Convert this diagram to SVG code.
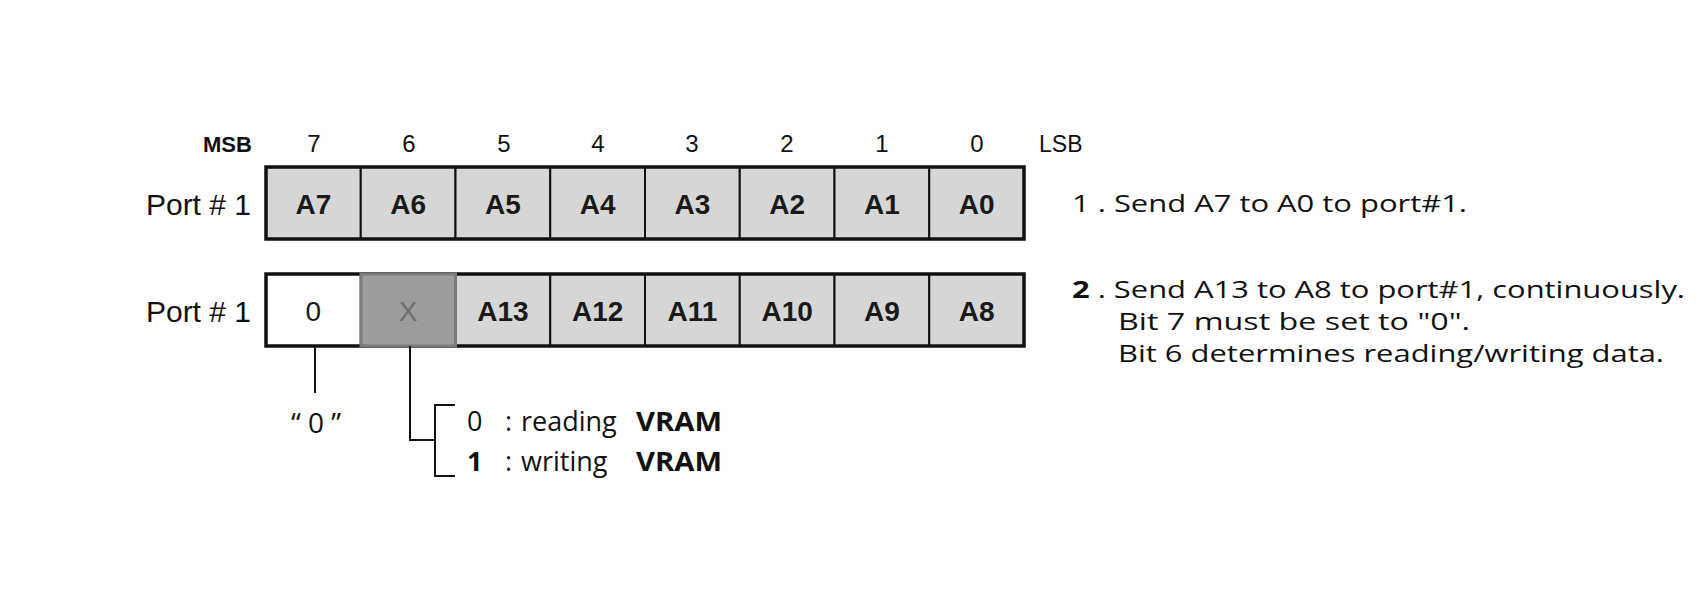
<svg xmlns="http://www.w3.org/2000/svg" width="1700" height="606" viewBox="0 0 1700 606">
<style>
.bg{fill:#ffffff}
.cell{fill:#d6d6d6;stroke:#111;stroke-width:2}
.white{fill:#ffffff;stroke:#111;stroke-width:2}
.dark{fill:#9c9c9c;stroke:#7a7a7a;stroke-width:3}
.frame{fill:none;stroke:#111;stroke-width:3.5}
.lbl{font-family:"Liberation Sans",Arial,sans-serif;font-weight:bold;font-size:28px;text-anchor:middle;fill:#1a1a1a}
.xl{fill:#6e6e6e}
.port{font-family:"Liberation Sans",Arial,sans-serif;font-size:30px;text-anchor:end;fill:#111}
.bit{font-family:"Liberation Sans",Arial,sans-serif;font-size:24px;text-anchor:middle;fill:#111}
.msb{font-family:"Liberation Sans",Arial,sans-serif;font-size:22px;font-weight:bold;fill:#111}
.note{font-family:"Open Sans","Noto Sans",sans-serif;font-size:25px;fill:#111}
.step{font-family:"Open Sans","Noto Sans",sans-serif;font-size:24px;fill:#111}
.sel{font-family:"Open Sans","Noto Sans",sans-serif;font-size:27px;fill:#111}
.b{font-weight:bold}
.ln{fill:none;stroke:#111;stroke-width:2}
</style>
<rect class="bg" x="0" y="0" width="1700" height="606"/>

<g id="bit-header">
<text class="msb" x="203" y="152">MSB</text>
<text class="bit" x="314" y="152">7</text>
<text class="bit" x="409" y="152">6</text>
<text class="bit" x="504" y="152">5</text>
<text class="bit" x="598" y="152">4</text>
<text class="bit" x="692" y="152">3</text>
<text class="bit" x="787" y="152">2</text>
<text class="bit" x="882" y="152">1</text>
<text class="bit" x="977" y="152">0</text>
<text class="bit" x="1039" y="152" style="text-anchor:start;font-size:23px">LSB</text>
</g>

<g id="row1">
<text class="port" x="251" y="215">Port # 1</text>
<g id="r1-a7"><rect class="cell" x="266" y="167" width="94.75" height="72"/><text class="lbl" x="313.4" y="214">A7</text></g>
<g id="r1-a6"><rect class="cell" x="360.75" y="167" width="94.75" height="72"/><text class="lbl" x="408.1" y="214">A6</text></g>
<g id="r1-a5"><rect class="cell" x="455.5" y="167" width="94.75" height="72"/><text class="lbl" x="502.9" y="214">A5</text></g>
<g id="r1-a4"><rect class="cell" x="550.25" y="167" width="94.75" height="72"/><text class="lbl" x="597.6" y="214">A4</text></g>
<g id="r1-a3"><rect class="cell" x="645" y="167" width="94.75" height="72"/><text class="lbl" x="692.4" y="214">A3</text></g>
<g id="r1-a2"><rect class="cell" x="739.75" y="167" width="94.75" height="72"/><text class="lbl" x="787.1" y="214">A2</text></g>
<g id="r1-a1"><rect class="cell" x="834.5" y="167" width="94.75" height="72"/><text class="lbl" x="881.9" y="214">A1</text></g>
<g id="r1-a0"><rect class="cell" x="929.25" y="167" width="94.75" height="72"/><text class="lbl" x="976.6" y="214">A0</text></g>
<rect class="frame" x="266" y="167" width="758" height="72"/>
</g>

<g id="row2">
<text class="port" x="251" y="322">Port # 1</text>
<g id="r2-b7"><rect class="white" x="266" y="274" width="94.75" height="72"/><text class="lbl" x="313.4" y="321" style="font-weight:normal">0</text></g>
<g id="r2-a13"><rect class="cell" x="455.5" y="274" width="94.75" height="72"/><text class="lbl" x="502.9" y="321">A13</text></g>
<g id="r2-a12"><rect class="cell" x="550.25" y="274" width="94.75" height="72"/><text class="lbl" x="597.6" y="321">A12</text></g>
<g id="r2-a11"><rect class="cell" x="645" y="274" width="94.75" height="72"/><text class="lbl" x="692.4" y="321">A11</text></g>
<g id="r2-a10"><rect class="cell" x="739.75" y="274" width="94.75" height="72"/><text class="lbl" x="787.1" y="321">A10</text></g>
<g id="r2-a9"><rect class="cell" x="834.5" y="274" width="94.75" height="72"/><text class="lbl" x="881.9" y="321">A9</text></g>
<g id="r2-a8"><rect class="cell" x="929.25" y="274" width="94.75" height="72"/><text class="lbl" x="976.6" y="321">A8</text></g>
<rect class="frame" x="266" y="274" width="758" height="72"/>
<g id="r2-b6"><rect class="dark" x="361" y="274" width="94.5" height="72"/><text class="lbl xl" x="408.1" y="321" style="font-weight:normal">X</text></g>
</g>

<g id="connectors">
<path class="ln" d="M315 346 V393"/>
<path class="ln" d="M410 346 V440 H435"/>
<path class="ln" d="M455 405 H435 V476 H455"/>
</g>

<g id="bit7-note">
<text class="sel" x="316" y="433" text-anchor="middle" style="font-size:28px">“ 0 ”</text>
</g>

<g id="bit6-note">
<text class="sel" y="431"><tspan x="467">0</tspan><tspan x="505">:</tspan><tspan x="521">reading</tspan></text>
<text class="sel b" x="636" y="431" textLength="86" lengthAdjust="spacingAndGlyphs">VRAM</text>
<text class="sel" y="471"><tspan x="467" class="b">1</tspan><tspan x="505">:</tspan><tspan x="521">writing</tspan></text>
<text class="sel b" x="636" y="471" textLength="86" lengthAdjust="spacingAndGlyphs">VRAM</text>
</g>

<g id="steps">
<text class="step" x="1072" y="212" textLength="395" lengthAdjust="spacingAndGlyphs">1 . Send A7 to A0 to port#1.</text>
<text class="step" x="1072" y="298" textLength="613" lengthAdjust="spacingAndGlyphs"><tspan class="b">2</tspan> . Send A13 to A8 to port#1, continuously.</text>
<text class="step" x="1118" y="330" textLength="352" lengthAdjust="spacingAndGlyphs">Bit 7 must be set to "0".</text>
<text class="step" x="1118" y="362" textLength="546" lengthAdjust="spacingAndGlyphs">Bit 6 determines reading/writing data.</text>
</g>
</svg>
